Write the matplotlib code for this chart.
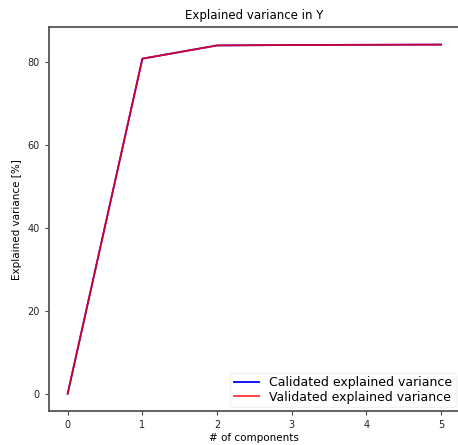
import matplotlib.pyplot as plt

components = [0, 1, 2, 3, 4, 5]
calibrated = [0.0, 80.9, 84.1, 84.2, 84.25, 84.3]
validated = [0.0, 80.9, 84.1, 84.2, 84.25, 84.3]

fig = plt.figure(figsize=(4.58, 4.45), dpi=100)
ax = fig.add_axes([0.107, 0.076, 0.897, 0.863])

ax.plot(components, calibrated, color="blue", linewidth=1.3, label="Calidated explained variance")
ax.plot(components, validated, color="red", linewidth=1.3, alpha=0.8, label="Validated explained variance")

ax.set_title("Explained variance in Y", fontsize=8.5)
ax.set_xlabel("# of components", fontsize=7.5, labelpad=2)
ax.set_ylabel("Explained variance [%]", fontsize=7.5)
ax.tick_params(labelsize=7, length=3, color="#444444", labelcolor="#222222")
ax.set_yticks([0, 20, 40, 60, 80])
for s in ax.spines.values():
    s.set_color("#555555")
    s.set_linewidth(1.3)
ax.legend(loc="lower right", fontsize=9, handlelength=2, borderpad=0.3,
          labelspacing=0.1, borderaxespad=0.3, edgecolor="#eeeeee")

fig.savefig("out.png", dpi=100)
